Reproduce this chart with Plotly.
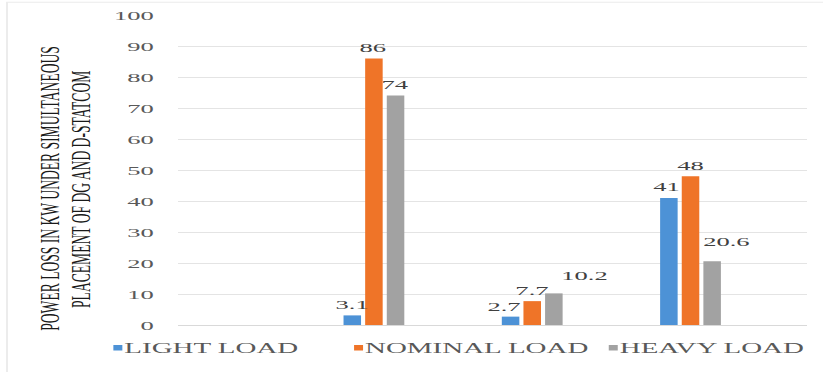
import plotly.graph_objects as go

# Chart data
categories = ["Case 1", "Case 2", "Case 3", "Case 4"]
light_load = [None, 3.1, 2.7, 41]
nominal_load = [None, 86, 7.7, 48]
heavy_load = [None, 74, 10.2, 20.6]
y_ticks = [0, 10, 20, 30, 40, 50, 60, 70, 80, 90, 100]
y_title_lines = ["POWER LOSS IN KW UNDER SIMULTANEOUS", "PLACEMENT OF DG AND D-STATCOM"]

series = [
    ("LIGHT LOAD", light_load, "#4d92d6", 75.5),
    ("NOMINAL LOAD", nominal_load, "#ef7428", 82.5),
    ("HEAVY LOAD", heavy_load, "#a2a2a2", 80),
]

SERIF = "Liberation Serif, Times New Roman, serif"

# Layout geometry (pixels before the horizontal stretch)
WIDTH, HEIGHT = 412, 372
MARGIN = dict(l=89, r=8, t=15, b=39)
X_RANGE = [-0.239, 3.736]
BARGAP, BARGROUPGAP = 0.59, 0.19

fig = go.Figure()
for name, vals, color, lw in series:
    fig.add_trace(go.Bar(
        name=name,
        x=categories,
        y=vals,
        marker=dict(color=color, line=dict(width=0)),
        legendwidth=lw,
        hoverinfo="skip",
    ))

# Value labels above each bar, nudged where two labels would crowd each other
plot_w = WIDTH - MARGIN["l"] - MARGIN["r"]
cat_px = plot_w / (X_RANGE[1] - X_RANGE[0])
slot_px = cat_px * (1 - BARGAP) / len(series)
label_nudge = {
    ("LIGHT LOAD", "Case 2"): (0.5, 0),
    ("LIGHT LOAD", "Case 3"): (-3.5, -1),
    ("LIGHT LOAD", "Case 4"): (-1.5, 0),
    ("HEAVY LOAD", "Case 3"): (15.5, 7),
    ("HEAVY LOAD", "Case 4"): (7.5, 9),
}
annotations = []
for i, (name, vals, _, _) in enumerate(series):
    offset = (i - (len(series) - 1) / 2) * slot_px
    for cat, v in zip(categories, vals):
        if v is None:
            continue
        dx, dy = label_nudge.get((name, cat), (0, 0))
        annotations.append(dict(
            x=cat, y=v, xref="x", yref="y",
            text=f"{v:g}",
            showarrow=False,
            xanchor="center", yanchor="middle",
            xshift=offset + dx, yshift=11 + dy,
            font=dict(family=SERIF, size=13.3, color="#404040"),
        ))

# Two-line rotated y-axis title, set a little tighter than the default line height
for line, xpos, ypos in zip(y_title_lines, [-0.2038, -0.1556], [0.4418, 0.4387]):
    annotations.append(dict(
        text=line,
        textangle=-90,
        xref="paper", yref="paper",
        x=xpos, y=ypos,
        xanchor="center", yanchor="middle",
        showarrow=False,
        font=dict(family=SERIF, size=13.6, color="#1a1a1a"),
    ))

fig.update_layout(
    width=WIDTH,
    height=HEIGHT,
    margin=MARGIN,
    paper_bgcolor="white",
    plot_bgcolor="white",
    barmode="group",
    bargap=BARGAP,
    bargroupgap=BARGROUPGAP,
    font=dict(family=SERIF, size=13.3, color="#595959"),
    xaxis=dict(
        type="category",
        range=X_RANGE,
        showticklabels=False,
        showgrid=False,
        zeroline=False,
        showline=False,
        ticks="",
    ),
    yaxis=dict(
        range=[0, 100],
        tickvals=y_ticks,
        showgrid=True,
        gridcolor="#e4e4e4",
        gridwidth=1,
        zeroline=True,
        zerolinecolor="#d9d9d9",
        zerolinewidth=1,
        showline=False,
        ticks="",
        ticklabelstandoff=11,
        tickfont=dict(family=SERIF, size=13.3, color="#595959"),
    ),
    showlegend=True,
    legend=dict(
        orientation="h",
        x=-0.1533,
        xanchor="left",
        y=-0.022,
        yanchor="top",
        font=dict(family=SERIF, size=14.5, color="#595959"),
        bgcolor="rgba(0,0,0,0)",
        traceorder="normal",
    ),
    annotations=annotations,
    shapes=[dict(
        type="rect", xref="paper", yref="paper",
        x0=-0.2714, x1=1.05, y0=-0.2, y1=1.041,
        line=dict(color="#ececec", width=1),
        fillcolor="rgba(0,0,0,0)",
        layer="below",
    )],
)

# The chart is laid out at half width and stretched horizontally to fill the page.
post = """
document.documentElement.style.margin = '0';
document.body.style.margin = '0';
document.body.style.overflow = 'hidden';
var gd = document.getElementById('{plot_id}');
gd.querySelectorAll('.legend .legendpoints path').forEach(function (p) {
    p.setAttribute('d', 'M2.25,2.75H-2.25V-2.75H2.25Z');
});
gd.querySelectorAll('.legend .legendtext').forEach(function (t) {
    t.setAttribute('x', parseFloat(t.getAttribute('x')) - 16.75);
});
gd.style.transformOrigin = '0 0';
gd.style.transform = 'scaleX(' + (823 / 412) + ')';
"""

fig.write_html("out.html", config={"displayModeBar": False}, post_script=post)
